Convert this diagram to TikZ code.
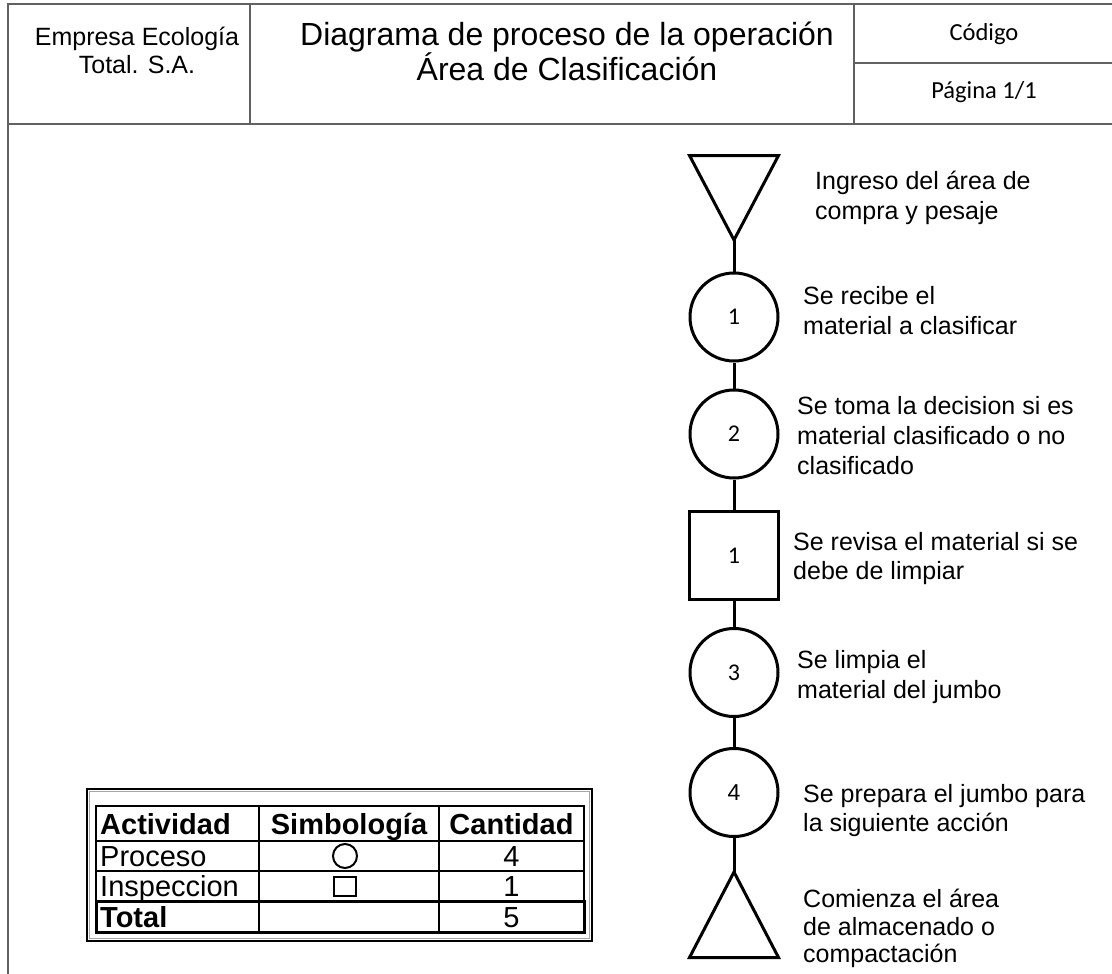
\documentclass[tikz,border=0pt]{standalone}
\usepackage{fontspec}
\setmainfont{Liberation Sans}
\newfontfamily\calibri{Carlito}
\begin{document}
\begin{tikzpicture}[x=1pt,y=-1pt,
  pageframe/.style={draw=black!62, line width=1.6pt},
  hdrtext/.style={anchor=base, inner sep=0pt, font=\fontsize{25}{30}\selectfont},
  titletext/.style={anchor=base, inner sep=0pt, font=\fontsize{32}{34}\selectfont},
  cornertext/.style={anchor=base, inner sep=0pt, font=\calibri\fontsize{24.5}{30}\selectfont},
  sym/.style={draw=black, line width=3pt},
  proc/.style={sym, circle, minimum size=88pt, inner sep=0pt, font=\calibri\fontsize{24}{24}\selectfont},
  insp/.style={sym, rectangle, minimum width=89pt, minimum height=88pt, inner sep=0pt, font=\calibri\fontsize{24}{24}\selectfont},
  link/.style={draw=black, line width=3pt},
  lbl/.style={anchor=base west, inner sep=0pt, font=\fontsize{25}{30}\selectfont},
  tabrule/.style={draw=black, line width=1.8pt},
  cell/.style={anchor=base, inner sep=0pt, font=\fontsize{29}{34}\selectfont},
  cellbold/.style={cell, font=\bfseries\fontsize{29}{34}\selectfont},
]
\useasboundingbox (0,0) rectangle (1112,974);
\fill[white] (0,0) rectangle (1112,974);

% page frame and header grid
\draw[pageframe] (8,974) -- (8,4) -- (1112,4);
\draw[pageframe] (8,124) -- (1112,124);
\draw[pageframe] (250,4) -- (250,124);
\draw[pageframe] (854,4) -- (854,124);
\draw[pageframe] (854,63) -- (1112,63);

% header texts
\node[hdrtext] (emp1) at (137,46) {Empresa Ecología};
\node[hdrtext] (emp2) at (137,74) {Total. S.A.};
\node[titletext] (tit1) at (567,46) {Diagrama de proceso de la operación};
\node[titletext] (tit2) at (567,81) {Área de Clasificación};
\node[cornertext] (cod) at (984,41) {Código};
\node[cornertext] (pag) at (984,99) {Página 1/1};

% process chart symbols
\draw[sym] (689.5,155.5) -- (778.5,155.5) -- (734,240) -- cycle;
\coordinate (t0) at (734,240);
\node[proc] (p1) at (734,317) {1};
\node[proc] (p2) at (734,434) {2};
\node[insp] (i1) at (734,555.5) {1};
\node[proc] (p3) at (734,672.5) {3};
\node[proc, font=\fontsize{23}{23}\selectfont] (p4) at (734,792.5) {4};
\draw[sym] (689.5,957.5) -- (778.5,957.5) -- (734,872) -- cycle;
\coordinate (t1) at (734,872);

% connectors
\draw[link] (t0) -- (p1);
\draw[link] (p1) -- (p2);
\draw[link] (p2) -- (i1);
\draw[link] (i1) -- (p3);
\draw[link] (p3) -- (p4);
\draw[link] (p4) -- (t1);

% step descriptions
\node[lbl] (d0a) at (815,189) {Ingreso del área de};
\node[lbl] (d0b) at (815,219) {compra y pesaje};
\node[lbl] (d1a) at (803,304) {Se recibe el};
\node[lbl] (d1b) at (803,334) {material a clasificar};
\node[lbl] (d2a) at (797,414) {Se toma la decision si es};
\node[lbl] (d2b) at (797,444) {material clasificado o no};
\node[lbl] (d2c) at (797,474) {clasificado};
\node[lbl] (d3a) at (793,550) {Se revisa el material si se};
\node[lbl] (d3b) at (793,579) {debe de limpiar};
\node[lbl] (d4a) at (797,668) {Se limpia el};
\node[lbl] (d4b) at (797,698) {material del jumbo};
\node[lbl] (d5a) at (803,802) {Se prepara el jumbo para};
\node[lbl] (d5b) at (803,831) {la siguiente acción};
\node[lbl] (d6a) at (803,907) {Comienza el área};
\node[lbl] (d6b) at (803,935) {de almacenado o};
\node[lbl] (d6c) at (803,962) {compactación};

% summary table
\draw[black, line width=1.2pt] (87,789) rectangle (592,941);
\draw[black!35, line width=1pt] (89.5,791.5) rectangle (589.5,938.5);
\draw[tabrule] (96,806) rectangle (584,932);
\draw[tabrule] (96,841) -- (584,841);
\draw[tabrule] (96,871) -- (584,871);
\draw[tabrule] (259,806) -- (259,932);
\draw[tabrule] (439,806) -- (439,932);
\draw[draw=black, line width=3pt] (96,901) rectangle (584,932);

\node[cellbold, anchor=base west] (h1) at (100,834) {Actividad};
\node[cellbold] (h2) at (349,834) {Simbología};
\node[cellbold] (h3) at (511.5,834) {Cantidad};
\node[cell, anchor=base west] (r1) at (100,866.5) {Proceso};
\node[draw=black, line width=2pt, circle, minimum size=24pt, inner sep=0pt] (s1) at (345,856) {};
\node[cell] (n1) at (511.5,866.5) {4};
\node[cell, anchor=base west] (r2) at (100,896.5) {Inspeccion};
\node[draw=black, line width=2pt, rectangle, minimum width=22pt, minimum height=19pt, inner sep=0pt] (s2) at (345,886) {};
\node[cell] (n2) at (511.5,896.5) {1};
\node[cellbold, anchor=base west] (r3) at (100,927) {Total};
\node[cell] (n3) at (511.5,927) {5};
\end{tikzpicture}
\end{document}
